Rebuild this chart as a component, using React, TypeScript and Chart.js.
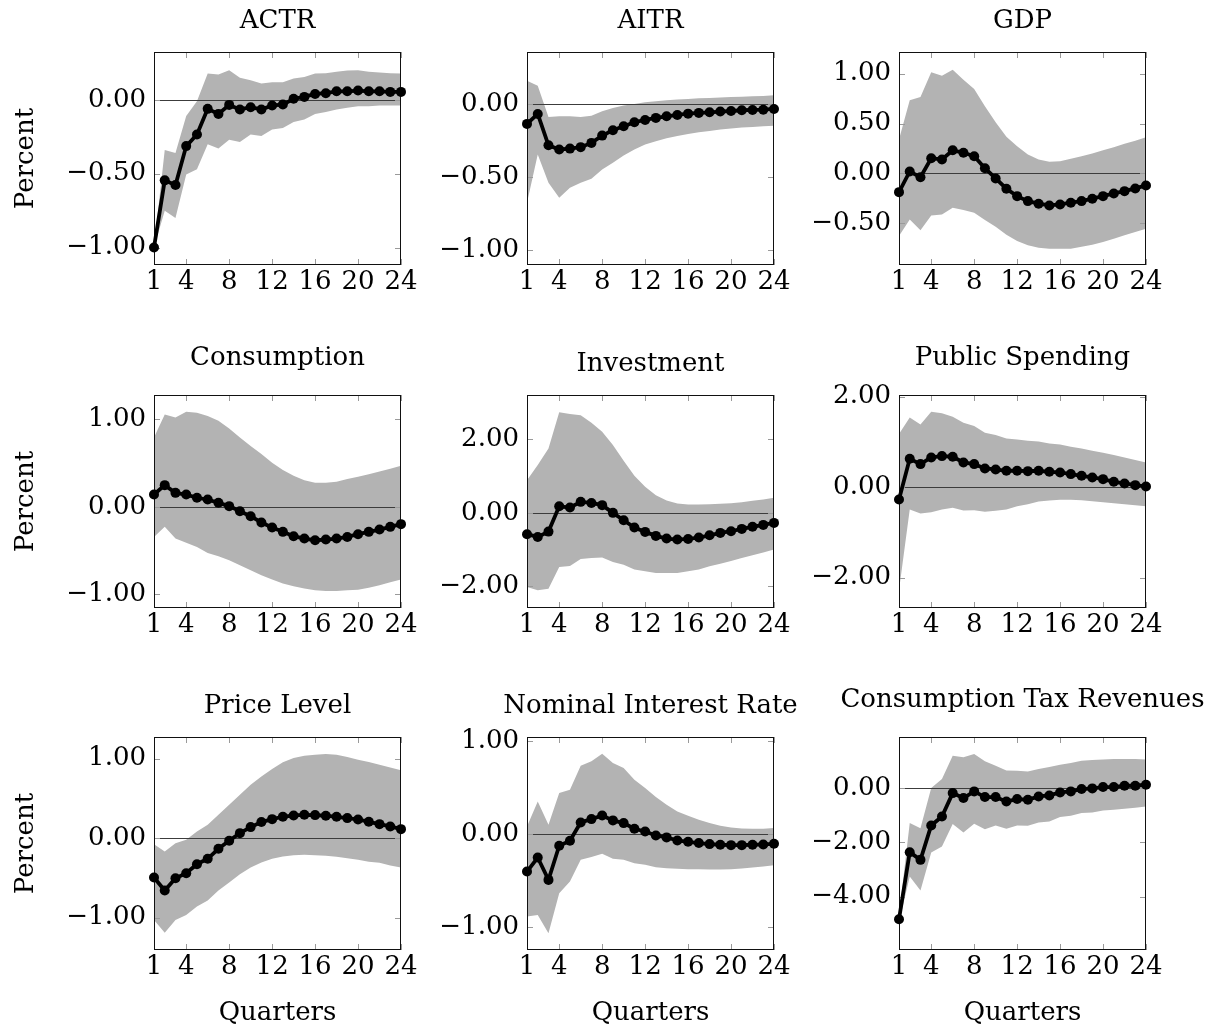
import React, { useEffect, useRef } from "react";
import { Chart, registerables } from "chart.js";

Chart.register(...registerables);

// ---------------- data ----------------
const QUARTERS = [1, 2, 3, 4, 5, 6, 7, 8, 9, 10, 11, 12, 13, 14, 15, 16, 17, 18, 19, 20, 21, 22, 23, 24];
const X_TICKS = [1, 4, 8, 12, 16, 20, 24];

const TITLES = [
  "ACTR", "AITR", "GDP",
  "Consumption", "Investment", "Public Spending",
  "Price Level", "Nominal Interest Rate", "Consumption Tax Revenues",
];

const ACTR_MEAN = [-1.0, -0.545, -0.577, -0.313, -0.234, -0.061, -0.095, -0.034, -0.065, -0.05, -0.065, -0.038, -0.032, 0.007, 0.02, 0.04, 0.045, 0.058, 0.058, 0.063, 0.058, 0.058, 0.054, 0.054];
const ACTR_UPPER = [-1.0, -0.34, -0.36, -0.11, -0.01, 0.178, 0.171, 0.2, 0.149, 0.133, 0.11, 0.119, 0.119, 0.144, 0.155, 0.178, 0.18, 0.19, 0.198, 0.2, 0.19, 0.186, 0.18, 0.178];
const ACTR_LOWER = [-1.0, -0.75, -0.8, -0.505, -0.47, -0.3, -0.33, -0.27, -0.285, -0.235, -0.245, -0.2, -0.19, -0.15, -0.133, -0.095, -0.083, -0.065, -0.054, -0.043, -0.043, -0.038, -0.038, -0.038];

const AITR_MEAN = [-0.136, -0.068, -0.282, -0.311, -0.305, -0.295, -0.266, -0.216, -0.18, -0.152, -0.125, -0.109, -0.095, -0.084, -0.075, -0.066, -0.061, -0.057, -0.052, -0.048, -0.043, -0.041, -0.039, -0.034];
const AITR_UPPER = [0.159, 0.125, -0.089, -0.084, -0.084, -0.089, -0.08, -0.05, -0.027, -0.011, 0.0, 0.011, 0.018, 0.025, 0.03, 0.034, 0.039, 0.041, 0.045, 0.048, 0.05, 0.052, 0.055, 0.059];
const AITR_LOWER = [-0.675, -0.345, -0.539, -0.641, -0.573, -0.539, -0.511, -0.448, -0.402, -0.352, -0.311, -0.277, -0.255, -0.234, -0.218, -0.205, -0.193, -0.184, -0.175, -0.168, -0.161, -0.157, -0.152, -0.148];

const GDP_MEAN = [-0.187, 0.02, -0.037, 0.153, 0.14, 0.233, 0.207, 0.173, 0.053, -0.05, -0.153, -0.227, -0.277, -0.303, -0.32, -0.31, -0.293, -0.277, -0.253, -0.227, -0.2, -0.177, -0.15, -0.12];
const GDP_UPPER = [0.34, 0.733, 0.767, 1.013, 0.98, 1.04, 0.94, 0.847, 0.673, 0.513, 0.367, 0.273, 0.19, 0.14, 0.117, 0.123, 0.147, 0.173, 0.2, 0.233, 0.263, 0.297, 0.327, 0.363];
const GDP_LOWER = [-0.627, -0.46, -0.57, -0.42, -0.41, -0.343, -0.367, -0.393, -0.467, -0.533, -0.613, -0.677, -0.72, -0.743, -0.753, -0.753, -0.753, -0.733, -0.713, -0.687, -0.653, -0.62, -0.587, -0.553];

const CONS_MEAN = [0.141, 0.248, 0.16, 0.141, 0.103, 0.084, 0.046, 0.008, -0.05, -0.107, -0.179, -0.237, -0.286, -0.336, -0.363, -0.382, -0.374, -0.363, -0.344, -0.313, -0.286, -0.26, -0.229, -0.198];
const CONS_UPPER = [0.794, 1.057, 1.023, 1.088, 1.076, 1.038, 0.985, 0.897, 0.794, 0.695, 0.603, 0.504, 0.42, 0.355, 0.305, 0.275, 0.275, 0.286, 0.317, 0.344, 0.374, 0.405, 0.435, 0.469];
const CONS_LOWER = [-0.344, -0.229, -0.363, -0.412, -0.458, -0.527, -0.565, -0.611, -0.668, -0.725, -0.782, -0.832, -0.878, -0.908, -0.935, -0.954, -0.962, -0.962, -0.954, -0.947, -0.924, -0.897, -0.863, -0.832];

const INV_MEAN = [-0.58, -0.655, -0.51, 0.18, 0.145, 0.3, 0.27, 0.21, 0.0, -0.2, -0.4, -0.518, -0.627, -0.7, -0.727, -0.71, -0.673, -0.61, -0.545, -0.5, -0.436, -0.38, -0.327, -0.273];
const INV_UPPER = [0.89, 1.3, 1.755, 2.736, 2.69, 2.655, 2.455, 2.21, 1.845, 1.418, 1.01, 0.71, 0.48, 0.336, 0.255, 0.227, 0.227, 0.236, 0.245, 0.264, 0.29, 0.327, 0.364, 0.41];
const INV_LOWER = [-2.02, -2.11, -2.064, -1.473, -1.445, -1.255, -1.227, -1.218, -1.336, -1.41, -1.545, -1.59, -1.636, -1.636, -1.636, -1.59, -1.545, -1.455, -1.382, -1.31, -1.227, -1.155, -1.082, -1.0];

const PUB_MEAN = [-0.273, 0.627, 0.509, 0.657, 0.686, 0.672, 0.546, 0.509, 0.413, 0.391, 0.362, 0.362, 0.354, 0.362, 0.339, 0.325, 0.288, 0.251, 0.214, 0.177, 0.118, 0.081, 0.044, 0.015];
const PUB_UPPER = [1.173, 1.542, 1.387, 1.668, 1.631, 1.557, 1.424, 1.35, 1.203, 1.151, 1.077, 1.055, 1.026, 1.011, 0.967, 0.945, 0.893, 0.856, 0.804, 0.76, 0.708, 0.657, 0.598, 0.546];
const PUB_LOWER = [-2.28, -0.494, -0.583, -0.553, -0.494, -0.458, -0.517, -0.509, -0.546, -0.524, -0.494, -0.42, -0.376, -0.317, -0.295, -0.28, -0.28, -0.288, -0.31, -0.332, -0.354, -0.376, -0.399, -0.42];

const PRICE_MEAN = [-0.496, -0.66, -0.504, -0.441, -0.328, -0.26, -0.134, -0.034, 0.063, 0.139, 0.202, 0.239, 0.269, 0.286, 0.294, 0.29, 0.282, 0.269, 0.252, 0.235, 0.206, 0.176, 0.147, 0.113];
const PRICE_UPPER = [-0.076, -0.168, -0.063, -0.021, 0.084, 0.168, 0.294, 0.42, 0.546, 0.672, 0.777, 0.87, 0.954, 1.008, 1.038, 1.05, 1.059, 1.05, 1.021, 0.987, 0.958, 0.924, 0.89, 0.853];
const PRICE_LOWER = [-1.03, -1.19, -1.03, -0.966, -0.861, -0.786, -0.66, -0.559, -0.454, -0.37, -0.307, -0.26, -0.231, -0.214, -0.21, -0.214, -0.223, -0.235, -0.252, -0.273, -0.298, -0.311, -0.345, -0.37];

const NIR_MEAN = [-0.406, -0.255, -0.496, -0.129, -0.075, 0.122, 0.158, 0.197, 0.144, 0.115, 0.054, 0.025, -0.018, -0.039, -0.072, -0.086, -0.1, -0.111, -0.118, -0.122, -0.122, -0.118, -0.115, -0.108];
const NIR_UPPER = [0.079, 0.348, 0.097, 0.438, 0.474, 0.733, 0.779, 0.862, 0.761, 0.707, 0.582, 0.492, 0.395, 0.312, 0.241, 0.194, 0.151, 0.115, 0.086, 0.068, 0.057, 0.054, 0.054, 0.061];
const NIR_LOWER = [-0.89, -0.873, -1.07, -0.639, -0.513, -0.28, -0.251, -0.215, -0.269, -0.28, -0.316, -0.334, -0.359, -0.37, -0.377, -0.381, -0.381, -0.384, -0.384, -0.381, -0.373, -0.363, -0.352, -0.338];

const CTR_MEAN = [-4.837, -2.363, -2.646, -1.378, -1.046, -0.185, -0.369, -0.123, -0.332, -0.332, -0.492, -0.406, -0.431, -0.308, -0.271, -0.16, -0.123, -0.037, -0.012, 0.037, 0.037, 0.086, 0.086, 0.123];
const CTR_UPPER = [-4.7, -1.29, -1.477, 0.0, 0.332, 1.194, 1.132, 1.255, 0.985, 0.825, 0.652, 0.64, 0.615, 0.702, 0.775, 0.862, 0.923, 1.009, 1.034, 1.058, 1.071, 1.071, 1.071, 1.058];
const CTR_LOWER = [-4.95, -3.26, -3.778, -2.375, -2.154, -1.329, -1.637, -1.317, -1.514, -1.378, -1.502, -1.378, -1.391, -1.268, -1.231, -1.071, -1.022, -0.923, -0.898, -0.825, -0.8, -0.763, -0.726, -0.677];

const MEANS = [ACTR_MEAN, AITR_MEAN, GDP_MEAN, CONS_MEAN, INV_MEAN, PUB_MEAN, PRICE_MEAN, NIR_MEAN, CTR_MEAN];
const UPPERS = [ACTR_UPPER, AITR_UPPER, GDP_UPPER, CONS_UPPER, INV_UPPER, PUB_UPPER, PRICE_UPPER, NIR_UPPER, CTR_UPPER];
const LOWERS = [ACTR_LOWER, AITR_LOWER, GDP_LOWER, CONS_LOWER, INV_LOWER, PUB_LOWER, PRICE_LOWER, NIR_LOWER, CTR_LOWER];

const Y_TICKS = [
  [-1, -0.5, 0], [-1, -0.5, 0], [-0.5, 0, 0.5, 1],
  [-1, 0, 1], [-2, 0, 2], [-2, 0, 2],
  [-1, 0, 1], [-1, 0, 1], [-4, -2, 0],
];
const Y_MIN = [-1.118, -1.1, -0.917, -1.157, -2.59, -2.672, -1.408, -1.25, -5.97];
const Y_MAX = [0.324, 0.355, 1.217, 1.279, 3.209, 2.037, 1.273, 1.041, 1.883];

const Y_LABEL = "Percent";
const X_LABEL = "Quarters";

// ---------------- layout / style ----------------
const FONT_FAMILY = "'DejaVu Serif', serif";
const FONT_SIZE = 26;
const PLOT_LEFT = [154, 527, 899];
const PLOT_TOP = [52, 395, 737];
const PLOT_W = 247;
const PLOT_H = 213;
const LP = 150;
const RP = 70;
const TP = 52;
const BP = 80;
const CW = LP + PLOT_W + RP;
const CH = TP + PLOT_H + BP;
const BAND_COLOR = "#b3b3b3";

const fmt = (v: number) => {
  const s = Math.abs(v) < 1e-9 ? "0.00" : v.toFixed(2);
  return s.replace("-", "\u2212");
};

const decorPlugin = {
  id: "panelDecor",
  beforeDatasetsDraw(chart: any) {
    const { ctx, chartArea: a, scales } = chart;
    const ys = scales.y;
    const xs = scales.x;
    ctx.save();
    ctx.lineWidth = 1;
    // zero line
    const y0 = Math.round(ys.getPixelForValue(0)) + 0.5;
    ctx.strokeStyle = "#3c3c3c";
    ctx.beginPath();
    ctx.moveTo(a.left, y0);
    ctx.lineTo(a.right, y0);
    ctx.stroke();
    // inner ticks
    ctx.strokeStyle = "#9a9a9a";
    ctx.beginPath();
    for (const t of ys.ticks) {
      const p = Math.round(ys.getPixelForValue(t.value)) + 0.5;
      ctx.moveTo(a.left, p);
      ctx.lineTo(a.left + 6, p);
      ctx.moveTo(a.right - 6, p);
      ctx.lineTo(a.right, p);
    }
    for (const t of xs.ticks) {
      const p = Math.round(xs.getPixelForValue(t.value)) + 0.5;
      ctx.moveTo(p, a.bottom);
      ctx.lineTo(p, a.bottom - 6);
      ctx.moveTo(p, a.top);
      ctx.lineTo(p, a.top + 6);
    }
    ctx.stroke();
    // frame
    ctx.strokeStyle = "#111";
    ctx.strokeRect(a.left + 0.5, a.top + 0.5, a.right - a.left - 1, a.bottom - a.top - 1);
    ctx.restore();
  },
  afterDraw(chart: any, _args: any, opts: any) {
    const { ctx, chartArea: a } = chart;
    ctx.save();
    ctx.font = `${FONT_SIZE}px ${FONT_FAMILY}`;
    ctx.fillStyle = "#000";
    ctx.textAlign = "center";
    ctx.textBaseline = "alphabetic";
    const m = ctx.measureText(opts.title);
    const desc = Math.max(0, m.actualBoundingBoxDescent || 0);
    ctx.fillText(opts.title, (a.left + a.right) / 2, a.top - 24 - (desc > 1 ? desc + 1.5 : 0));
    if (opts.showY) {
      ctx.save();
      ctx.translate(a.left - 121, (a.top + a.bottom) / 2);
      ctx.rotate(-Math.PI / 2);
      ctx.fillText(Y_LABEL, 0, 0);
      ctx.restore();
    }
    if (opts.showX) {
      ctx.fillText(X_LABEL, (a.left + a.right) / 2, a.bottom + 70);
    }
    ctx.restore();
  },
};

function Panel({ idx }: { idx: number }) {
  const ref = useRef<HTMLCanvasElement>(null);
  const col = idx % 3;
  const row = Math.floor(idx / 3);

  useEffect(() => {
    const canvas = ref.current;
    if (!canvas) return;
    const pts = (arr: number[]) => QUARTERS.map((q, i) => ({ x: q, y: arr[i] }));
    const chart = new Chart(canvas, {
      type: "line",
      data: {
        datasets: [
          {
            data: pts(UPPERS[idx]),
            fill: "+1",
            backgroundColor: BAND_COLOR,
            borderColor: "rgba(0,0,0,0)",
            borderWidth: 0,
            pointRadius: 0,
            tension: 0,
          },
          {
            data: pts(LOWERS[idx]),
            fill: false,
            backgroundColor: BAND_COLOR,
            borderColor: "rgba(0,0,0,0)",
            borderWidth: 0,
            pointRadius: 0,
            tension: 0,
          },
          {
            data: pts(MEANS[idx]),
            fill: false,
            borderColor: "#000",
            backgroundColor: "#000",
            borderWidth: 3.8,
            pointRadius: 5,
            pointBorderWidth: 0,
            pointBackgroundColor: "#000",
            tension: 0,
            clip: false,
          },
        ],
      } as any,
      options: {
        responsive: false,
        animation: false,
        devicePixelRatio: 1,
        events: [],
        layout: { padding: { top: TP, right: RP, left: 0, bottom: 0 } },
        plugins: {
          legend: { display: false },
          tooltip: { enabled: false },
          filler: { propagate: false, drawTime: "beforeDatasetsDraw" },
          panelDecor: { title: TITLES[idx], showY: col === 0, showX: row === 2 },
        } as any,
        scales: {
          x: {
            type: "linear",
            min: 1,
            max: 24,
            grid: { display: false, drawTicks: false },
            border: { display: false },
            ticks: {
              autoSkip: false,
              maxRotation: 0,
              minRotation: 0,
              padding: 2,
              color: "#000",
              font: { family: FONT_FAMILY, size: FONT_SIZE, lineHeight: 1.2 },
              callback: (v: any) => String(v),
            },
            afterBuildTicks: (s: any) => {
              s.ticks = X_TICKS.map((v) => ({ value: v }));
            },
            afterFit: (s: any) => {
              s.height = BP;
            },
          },
          y: {
            type: "linear",
            min: Y_MIN[idx],
            max: Y_MAX[idx],
            grid: { display: false, drawTicks: false },
            border: { display: false },
            ticks: {
              autoSkip: false,
              padding: 8,
              color: "#000",
              font: { family: FONT_FAMILY, size: FONT_SIZE, lineHeight: 1.2 },
              callback: (v: any) => fmt(Number(v)),
            },
            afterBuildTicks: (s: any) => {
              s.ticks = Y_TICKS[idx].map((v) => ({ value: v }));
            },
            afterFit: (s: any) => {
              s.width = LP;
            },
          },
        },
      } as any,
      plugins: [decorPlugin as any],
    });
    return () => chart.destroy();
  }, [idx, col, row]);

  return (
    <canvas
      ref={ref}
      width={CW}
      height={CH}
      style={{
        position: "absolute",
        left: PLOT_LEFT[col] - LP,
        top: PLOT_TOP[row] - TP,
        width: CW,
        height: CH,
      }}
    />
  );
}

export default function App() {
  return (
    <div
      style={{
        position: "absolute",
        left: 0,
        top: 0,
        width: 1218,
        height: 1032,
        overflow: "hidden",
        background: "#fff",
      }}
    >
      {TITLES.map((_, i) => (
        <Panel key={i} idx={i} />
      ))}
    </div>
  );
}
